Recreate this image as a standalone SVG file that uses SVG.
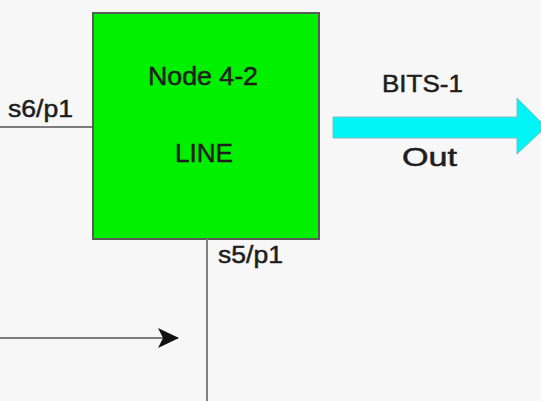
<svg xmlns="http://www.w3.org/2000/svg" width="541" height="401" viewBox="0 0 541 401">
  <style>
    .lbl { font-family: "Liberation Sans", Arial, sans-serif; fill: #1e1e1e; stroke: #1e1e1e; stroke-width: 0.5; }
    .wire { stroke: #555; stroke-width: 1.6; fill: none; }
  </style>
  <defs>
    <marker id="head" markerWidth="22" markerHeight="20" refX="20" refY="10" orient="auto" markerUnits="userSpaceOnUse">
      <path d="M0,0 L21,10 L0,20 L5,10 Z" fill="#111"/>
    </marker>
  </defs>
  <rect width="541" height="401" fill="#f7f7f7"/>

  <!-- node -->
  <g id="node-4-2">
    <rect x="93" y="13" width="226" height="226" fill="#00f000" stroke="#5a5a5a" stroke-width="2"/>
    <text class="lbl" x="148" y="85" font-size="26" textLength="110" lengthAdjust="spacingAndGlyphs">Node 4-2</text>
    <text class="lbl" x="175" y="162" font-size="26" textLength="58" lengthAdjust="spacingAndGlyphs">LINE</text>
  </g>

  <!-- BITS output arrow -->
  <g id="bits-out">
    <path d="M333,117 L517,117 L517,98 L546,127 L517,154 L517,138 L333,138 Z" fill="#00f6f6" stroke="#7fbcc0" stroke-width="1"/>
    <text class="lbl" x="382" y="92" font-size="23" textLength="81" lengthAdjust="spacingAndGlyphs">BITS-1</text>
    <text class="lbl" x="402" y="166" font-size="25" textLength="55" lengthAdjust="spacingAndGlyphs">Out</text>
  </g>

  <!-- port labels -->
  <g id="ports">
    <text class="lbl" x="8" y="117" font-size="23" textLength="65" lengthAdjust="spacingAndGlyphs">s6/p1</text>
    <text class="lbl" x="218" y="263" font-size="23" textLength="65" lengthAdjust="spacingAndGlyphs">s5/p1</text>
  </g>

  <!-- connectors -->
  <g id="connectors">
    <line class="wire" x1="0" y1="127" x2="93" y2="127"/>
    <line x1="207" y1="239" x2="207" y2="401" stroke="#808080" stroke-width="2"/>
    <line class="wire" x1="0" y1="338" x2="178" y2="338" marker-end="url(#head)"/>
  </g>
</svg>
